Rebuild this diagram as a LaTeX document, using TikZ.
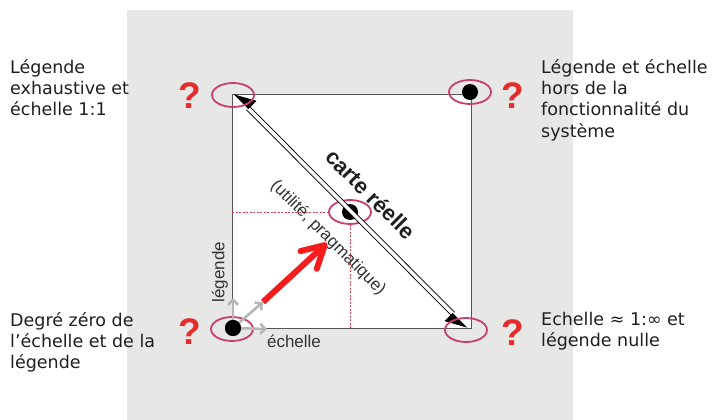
\documentclass[tikz,border=0pt]{standalone}
\usepackage{fontspec}
\setmainfont{DejaVu Sans}
\newfontfamily\labfont{Liberation Sans}
\usetikzlibrary{arrows.meta,shapes.geometric}
\definecolor{bggray}{HTML}{E7E7E6}
\definecolor{ringc}{HTML}{C8406A}
\definecolor{qred}{HTML}{E52B2B}
\definecolor{arrred}{HTML}{F41C1C}
\definecolor{garr}{HTML}{B5B5B5}
\definecolor{labc}{HTML}{333333}
\definecolor{edgec}{HTML}{555555}
\definecolor{guidec}{HTML}{E04050}
\begin{document}
\begin{tikzpicture}[x=1pt,y=-1pt,
  ring/.style={ellipse, draw=ringc, line width=1.8pt, minimum width=42pt, minimum height=24pt, inner sep=0pt},
  dot/.style={circle, fill=black, minimum size=16pt, inner sep=0pt},
  qmark/.style={text=qred, inner sep=0pt, font=\fontsize{37}{37}\labfont\bfseries},
  side/.style={anchor=north west, align=left, inner sep=0pt, font=\fontsize{17.5}{21.3}\selectfont, text=black!88},
  lbl/.style={text=labc, inner sep=0pt, font=\fontsize{17}{20}\labfont},
  guide/.style={draw=guidec, dash pattern=on 2pt off 1.5pt, line width=0.6pt},
  diag/.style={draw=black, line width=0.9pt, double=white, double distance=3.5pt,
    {Triangle[harpoon,swap,length=20pt,width=22pt]}-{Triangle[harpoon,swap,length=20pt,width=22pt]}},
  bigarrow/.style={draw=arrred, line width=6pt, -{Straight Barb[length=22pt,width=24pt,round]}},
  garrow/.style={draw=garr, line width=2.5pt, -{Straight Barb[length=5pt,width=10pt]}}
]
\path[use as bounding box] (0,0) rectangle (713,420);
\fill[bggray] (127,10) rectangle (573,420);
\node[draw=edgec, fill=white, line width=0.8pt, minimum width=239pt, minimum height=234pt, inner sep=0pt, anchor=north west] (map) at (232,94) {};

% guides
\node[ring] (c) at (350,212) {};
\node[dot] (cd) at (350,212) {};
\draw[guide] (map.west |- cd) -- (c.west);
\draw[guide] (c.south) -- (cd |- map.south);

% diagonal
\coordinate (dstart) at (234,94);
\coordinate (dend) at (467,328);
\draw[diag] (dstart) -- (dend);

% labels
\node[lbl, rotate=90] (leg) at (220,272) {légende};
\node[lbl] (ech) at (294,341) {échelle};
\node[lbl, text=black!88, font=\fontsize{22}{24}\labfont\bfseries, rotate=-45] (carte) at (371,194) {carte réelle};
\node[lbl, rotate=-45] (util) at (328,238) {(utilité, pragmatique)};

% red arrow
\coordinate (rs) at (263,302);
\coordinate (re) at (327,243);
\draw[bigarrow] (rs) -- (re);

% rings
\node[ring] (tl) at (233,95) {};
\node[ring] (tr) at (470,92) {};
\node[ring] (bl) at (232,329) {};
\node[ring] (br) at (466,330) {};
\node[dot] (trd) at (470,92) {};

% gray arrows
\coordinate (gu) at (233,298);
\coordinate (gd) at (263,302);
\coordinate (gr) at (267,329);
\node[dot] (bld) at (233,328) {};
\draw[garrow] (bld.center) -- (gu);
\draw[garrow] (bld.center) -- (gd);
\draw[garrow] (bld.center) -- (gr);
\node[dot] at (bld) {};

% side texts
\node[side] (t1) at (10,59) {Légende\\exhaustive et\\échelle 1:1};
\node[side] (t2) at (541,59) {Légende et échelle\\hors de la\\fonctionnalité du\\système};
\node[side] (t3) at (10,312) {Degré zéro de\\l’échelle et de la\\légende};
\node[side] (t4) at (541,312) {Echelle ≈ 1:∞ et\\légende nulle};

% question marks
\node[qmark] (q1) at (190,96) {?};
\node[qmark] (q2) at (513,96) {?};
\node[qmark] (q3) at (190,332) {?};
\node[qmark] (q4) at (513,333) {?};
\end{tikzpicture}
\end{document}
